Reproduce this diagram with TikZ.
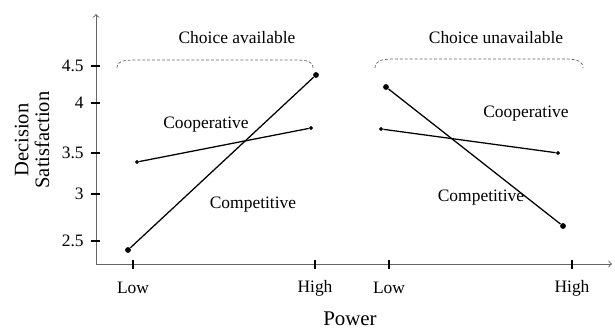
\documentclass[tikz,border=0pt]{standalone}
\usepackage{fontspec}
\setmainfont{Liberation Serif}
\usetikzlibrary{arrows}
\usetikzlibrary{positioning}
\usetikzlibrary{shapes.geometric}
\tikzset{compdot/.style = {fill, circle, inner sep = 0, minimum size = 3.2pt}}
\tikzset{coopdot/.style = {fill, diamond, inner sep = 0, minimum size = 2.6pt}}
\tikzset{brace/.style = {gray!80!black, dash pattern = on 1.6pt off 1.1pt, line width = 0.4pt}}
\tikzset{lbl/.style = {inner sep = 0, font = \fontsize{9.6}{11}\selectfont}}
\definecolor{axisgray}{gray}{0.4}

\begin{document}
\begin{tikzpicture}[x=0.55pt, y=-0.55pt]
    \useasboundingbox (0, 0) rectangle (615, 328);
    % axes
    \draw [axisgray, line width=0.5pt, -to] (96, 264) -- (96, 14);
    \draw [axisgray, line width=0.5pt, -to] (96, 264) -- (612, 264);

    % y ticks
    \foreach \yy/\lab [count=\i] in {66/4.5, 103/4, 153/3.5, 194/3, 241/2.5} {
      \draw [line width=0.8pt] (91, \yy) -- (100, \yy);
      \node [lbl, anchor=east] (ylab\i) at (84, \yy) {\lab};
    }
    % x ticks
    \foreach \xx/\lab [count=\i] in {133/Low, 315/High, 389/Low, 572/High} {
      \draw [line width=0.8pt] (\xx, 260) -- (\xx, 269);
      \node [lbl] (xlab\i) at (\xx, 288) {\lab};
    }

    \node [font=\fontsize{11.5}{12}\selectfont] (xtitle) at (350, 319) {Power};
    \node [rotate=90, align=center, font=\fontsize{11.3}{11.4}\selectfont] (ytitle) at (32, 140) {Decision\\Satisfaction};

    % choice available
    \node [lbl] (availtitle) at (237, 38) {Choice available};
    \draw [brace] (117, 68) .. controls (117, 61) and (123, 60) .. (136, 60) -- (294, 60)
      .. controls (307, 60) and (313, 61) .. (313, 68);
    \node [compdot] (acomplo) at (128, 250) {};
    \node [compdot] (acomphi) at (316, 75) {};
    \node [coopdot] (acooplo) at (137, 162) {};
    \node [coopdot] (acoophi) at (311, 128) {};
    \draw [line width=0.7pt] (acomplo) -- (acomphi);
    \draw [line width=0.7pt] (acooplo) -- (acoophi);
    \node [lbl] (acooplab) at (206, 125) {Cooperative};
    \node [lbl] (acomplab) at (253, 205) {Competitive};

    % choice unavailable
    \node [lbl] (unavailtitle) at (496, 38) {Choice unavailable};
    \draw [brace] (375, 68) .. controls (375, 61) and (381, 59) .. (394, 59) -- (564, 59)
      .. controls (577, 59) and (583, 61) .. (583, 68);
    \node [compdot] (ucomplo) at (386, 87) {};
    \node [compdot] (ucomphi) at (563, 226) {};
    \node [coopdot] (ucooplo) at (381, 129) {};
    \node [coopdot] (ucoophi) at (558, 153) {};
    \draw [line width=0.7pt] (ucomplo) -- (ucomphi);
    \draw [line width=0.7pt] (ucooplo) -- (ucoophi);
    \node [lbl] (ucooplab) at (526, 114) {Cooperative};
    \node [lbl] (ucomplab) at (481, 198) {Competitive};
  \end{tikzpicture}
\end{document}
